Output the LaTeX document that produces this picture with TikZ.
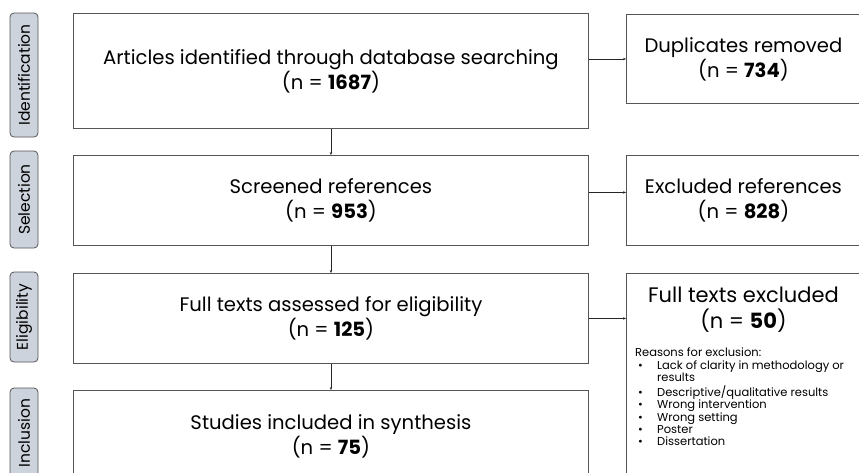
\documentclass[tikz,border=0pt]{standalone}
\usepackage{fontspec}
\setmainfont{Poppins}
\usetikzlibrary{arrows.meta,calc}
\definecolor{stagegray}{HTML}{CDD3DC}
\definecolor{boxline}{HTML}{555555}
\begin{document}
\begin{tikzpicture}[x=1pt,y=1pt,
  box/.style={draw=boxline, line width=0.9pt, anchor=north west, inner sep=0pt, align=center,
    font=\fontsize{19.6}{25}\selectfont},
  stage/.style={draw=boxline, fill=stagegray, rounded corners=4pt, line width=0.8pt, rotate=90,
    inner sep=0pt, minimum height=28pt, font=\fontsize{15.5}{17}\selectfont},
  maintext/.style={font=\fontsize{21}{26}\selectfont, align=center},
  smalltext/.style={font=\fontsize{11.5}{12.3}\selectfont, inner sep=0pt},
  arr/.style={-{Stealth[length=3pt,width=2.5pt]}, line width=0.8pt, draw=black!85},
]
\useasboundingbox (0,0) rectangle (859,-472);
\clip (0,0) rectangle (859,-472);
% stage labels
\node[stage, minimum width=124pt] (s1) at (24,-75) {Identification};
\node[stage, minimum width=97pt] (s2) at (24,-199.5) {Selection};
\node[stage, minimum width=90pt] (s3) at (24,-317) {Eligibility};
\node[stage, minimum width=90pt] (s4) at (24,-433) {Inclusion};
% left boxes
\node[box, minimum width=515pt, minimum height=115pt] (id) at (73,-13)
  {Articles identified through database searching\\(n = \textbf{1687})};
\node[box, minimum width=515pt, minimum height=90pt] (sel) at (73,-155)
  {Screened references\\(n = \textbf{953})};
\node[box, minimum width=515pt, minimum height=90pt] (eli) at (73,-273)
  {Full texts assessed for eligibility\\(n = \textbf{125})};
\node[box, minimum width=515pt, minimum height=92pt] (inc) at (73,-390)
  {Studies included in synthesis\\(n = \textbf{75})};
% right boxes
\node[box, minimum width=234pt, minimum height=89pt] (dup) at (626,-14)
  {Duplicates removed\\(n = \textbf{734})};
\node[box, minimum width=234pt, minimum height=90pt] (exr) at (626,-155)
  {Excluded references\\(n = \textbf{828})};
\node[box, minimum width=234pt, minimum height=220pt] (fte) at (626,-273) {};
\node[maintext, anchor=north, inner sep=0pt] (ftet) at ($(fte.north)+(0,-14)$)
  {Full texts excluded\\(n = \textbf{50})};
\node[smalltext, anchor=north west] (why) at ($(fte.north west)+(9,-75)$)
  {\begin{tabular}{@{}p{22pt}@{}l@{}}
   \multicolumn{2}{@{}l@{}}{Reasons for exclusion:}\\
   \hspace{3pt}\textbullet & Lack of clarity in methodology or\\
   & results\\
   \hspace{3pt}\textbullet & Descriptive/qualitative results\\
   \hspace{3pt}\textbullet & Wrong intervention\\
   \hspace{3pt}\textbullet & Wrong setting\\
   \hspace{3pt}\textbullet & Poster\\
   \hspace{3pt}\textbullet & Dissertation
   \end{tabular}};
% arrows
\draw[arr] (id.south) -- (sel.north);
\draw[arr] (sel.south) -- (eli.north);
\draw[arr] (eli.south) -- (inc.north);
\draw[arr] (id.east |- dup.west) -- (dup.west);
\draw[arr] ($(sel.east)+(0,8)$) -- ($(exr.west)+(0,8)$);
\draw[arr] (eli.east) -- (eli.east -| fte.west);
\end{tikzpicture}
\end{document}
